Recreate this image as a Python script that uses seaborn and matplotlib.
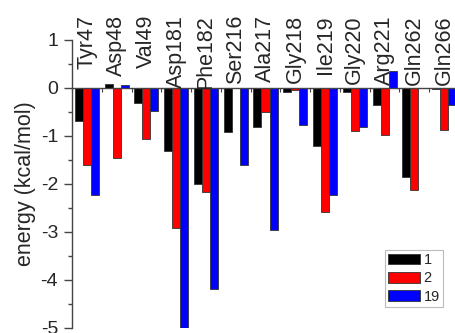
import matplotlib
matplotlib.use("Agg")
import matplotlib.pyplot as plt
import seaborn as sns
import pandas as pd
from matplotlib.ticker import MultipleLocator, FixedLocator

residues = ["Tyr47", "Asp48", "Val49", "Asp181", "Phe182", "Ser216", "Ala217",
            "Gly218", "Ile219", "Gly220", "Arg221", "Gln262", "Gln266"]
series_names = ["1", "2", "19"]
vals_1 = [-0.68, 0.08, -0.32, -1.31, -2.00, -0.93, -0.81, -0.08, -1.22, -0.09, -0.35, -1.85, -0.02]
vals_2 = [-1.60, -1.47, -1.07, -2.93, -2.17, 0.00, -0.51, -0.04, -2.58, -0.90, -0.98, -2.13, -0.88]
vals_19 = [-2.24, 0.07, -0.48, -5.00, -4.19, -1.60, -2.96, -0.78, -2.23, -0.81, 0.36, 0.00, -0.36]
colors = ["#000000", "#ff0000", "#0000ff"]

rows = []
for name, vals in zip(series_names, [vals_1, vals_2, vals_19]):
    for r, v in zip(residues, vals):
        rows.append({"residue": r, "series": name, "energy": v})
df = pd.DataFrame(rows)

sns.set_style("ticks")
plt.rcParams["font.family"] = ["Liberation Sans", "DejaVu Sans"]
plt.rcParams["axes.unicode_minus"] = False

fig = plt.figure(figsize=(4.56, 3.33), dpi=100)
ax = fig.add_axes([72 / 456, 5.5 / 333, (459 - 72) / 456, 287.5 / 333])

sns.barplot(data=df, x="residue", y="energy", hue="series", order=residues,
            hue_order=series_names, palette=colors, saturation=1, errorbar=None,
            width=0.81, edgecolor="#333333", linewidth=0.6, ax=ax)

ax.set_xlim(-0.5, 12.5)
ax.set_ylim(-5, 1)

for s in ["top", "right"]:
    ax.spines[s].set_visible(False)
ax.spines["bottom"].set_position(("data", 0))
for s in ["left", "bottom"]:
    ax.spines[s].set_color("#444444")
    ax.spines[s].set_linewidth(1.0)

ax.set_xlabel("")
ax.xaxis.set_major_locator(FixedLocator([i + 0.5 for i in range(-1, 13)]))
ax.set_xticklabels([])
ax.tick_params(axis="x", length=3, width=0.8, color="#444444", direction="out")

ax.yaxis.set_major_locator(MultipleLocator(1))
ax.yaxis.set_minor_locator(MultipleLocator(0.5))
ax.tick_params(axis="y", which="major", length=6, width=1.0, color="#444444",
               labelsize=14, pad=4)
ax.tick_params(axis="y", which="minor", length=3, width=1.0, color="#444444")
ax.set_ylabel("energy (kcal/mol)", fontsize=15.5, labelpad=3)

for i, r in enumerate(residues):
    ax.text(i, 1.52, r, rotation=90, ha="center", va="top", fontsize=15.5,
            clip_on=False)

handles, labels = ax.get_legend_handles_labels()
leg = ax.legend(handles, labels, loc="upper left", bbox_to_anchor=(0.81, 0.269),
                borderaxespad=0, fontsize=10.5, frameon=True, fancybox=False,
                handlelength=2.2, handleheight=0.75, labelspacing=0.3,
                handletextpad=0.2, borderpad=0.2, title=None)
leg.get_frame().set_edgecolor("#aaaaaa")
leg.get_frame().set_linewidth(0.8)

fig.savefig("out.png", dpi=100)
